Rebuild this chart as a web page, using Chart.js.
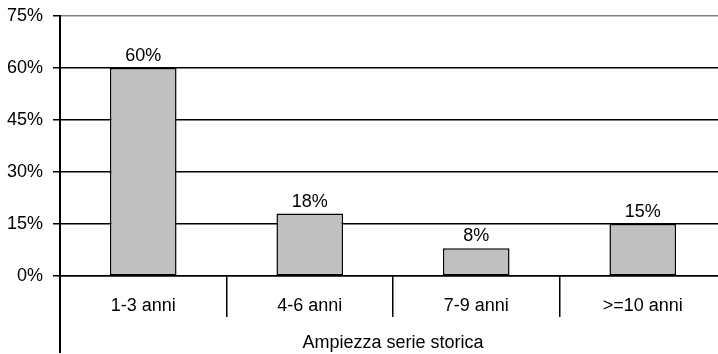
<!DOCTYPE html>
<html>
<head>
<meta charset="utf-8">
<script src="https://cdn.jsdelivr.net/npm/chart.js@4/dist/chart.umd.min.js"></script>
<style>
  html, body { margin: 0; padding: 0; overflow: hidden; background: #fff; }
  #wrap { width: 728px; height: 354px; }
</style>
</head>
<body>
<div id="wrap"><canvas id="c" width="728" height="354"></canvas></div>
<script>
const categories = ['1-3 anni', '4-6 anni', '7-9 anni', '>=10 anni'];
const shares = [60, 18, 8, 15];
const yTicks = [0, 15, 30, 45, 60, 75];
const xTitle = 'Ampiezza serie storica';

const FONT = { family: '"Liberation Sans", Arial, sans-serif', size: 18 };

// Percent labels above each bar
const valueLabels = {
  id: 'valueLabels',
  afterDatasetsDraw(chart) {
    const ctx = chart.ctx;
    const meta = chart.getDatasetMeta(0);
    ctx.save();
    ctx.font = `${FONT.size}px ${FONT.family}`;
    ctx.fillStyle = '#000';
    ctx.textAlign = 'center';
    ctx.textBaseline = 'bottom';
    meta.data.forEach((bar, i) => {
      ctx.fillText(shares[i] + '%', bar.x, bar.y - 3);
    });
    ctx.restore();
  }
};

// Vertical axis line continues down through the category band
const axisExtension = {
  id: 'axisExtension',
  afterDraw(chart) {
    const ctx = chart.ctx;
    const x = chart.scales.x.left;
    ctx.save();
    ctx.strokeStyle = '#000';
    ctx.lineWidth = 2;
    ctx.beginPath();
    ctx.moveTo(x, chart.chartArea.bottom);
    ctx.lineTo(x, chart.height - 1);
    ctx.stroke();
    ctx.restore();
  }
};

new Chart(document.getElementById('c'), {
  type: 'bar',
  data: {
    labels: categories,
    datasets: [{
      data: shares,
      backgroundColor: '#c0c0c0',
      borderColor: '#000',
      borderWidth: 1.5,
      borderSkipped: false,
      categoryPercentage: 1,
      barPercentage: 0.4
    }]
  },
  options: {
    responsive: false,
    animation: false,
    devicePixelRatio: 1,
    layout: { padding: { top: 16, right: 2, left: 0, bottom: 0 } },
    plugins: { legend: { display: false }, tooltip: { enabled: false } },
    scales: {
      x: {
        grid: {
          offset: true,
          drawOnChartArea: false,
          drawTicks: true,
          tickLength: 41,
          color: '#000',
          lineWidth: 1.5
        },
        border: { display: true, color: '#000', width: 1.5 },
        ticks: { font: FONT, color: '#000', padding: -22, maxRotation: 0 },
        title: { display: true, text: xTitle, font: FONT, color: '#000', padding: { top: 0, bottom: 0 } },
        afterFit(scale) { scale.height = 78; }
      },
      y: {
        min: 0,
        max: 75,
        afterBuildTicks(scale) { scale.ticks = yTicks.map(v => ({ value: v })); },
        grid: {
          color: c => (c.tick && c.tick.value === 75 ? '#808080' : '#000'),
          tickColor: '#000',
          lineWidth: 1.5,
          tickLength: 7
        },
        border: { display: true, color: '#000', width: 2 },
        ticks: { font: FONT, color: '#000', padding: 10, callback: v => v + '%' },
        afterFit(scale) {
          scale.width = 60;
          scale.paddingTop = 0;
          scale.paddingBottom = 0;
        }
      }
    }
  },
  plugins: [valueLabels, axisExtension]
});
</script>
</body>
</html>
